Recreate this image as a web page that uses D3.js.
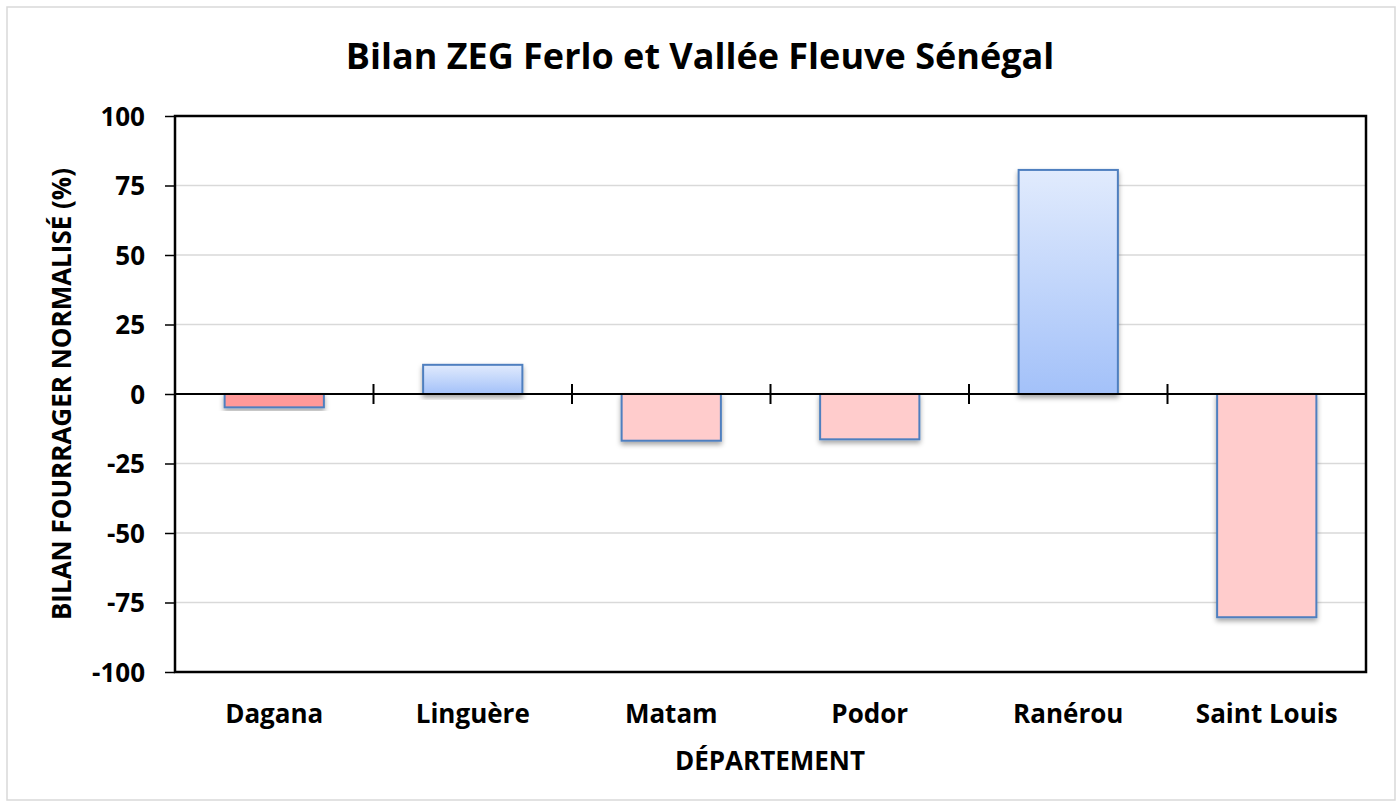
<!DOCTYPE html>
<html lang="fr">
<head>
<meta charset="UTF-8">
<title>Bilan ZEG Ferlo et Vallée Fleuve Sénégal</title>
<style>
  body { margin: 0; background: #fff; }
  svg text { font-family: "Open Sans", "DejaVu Sans", sans-serif; font-weight: bold; fill: #000; }
</style>
</head>
<body>
<script src="https://cdn.jsdelivr.net/npm/d3@7"></script>
<script>
// données
var departements = ["Dagana", "Linguère", "Matam", "Podor", "Ranérou", "Saint Louis"];
var bilan = [-4.8, 10.5, -16.8, -16.3, 80.6, -80.3];
var yTicks = [-100, -75, -50, -25, 0, 25, 50, 75, 100];

var W = 1399, H = 807;
var margin = {top: 116, right: 33, bottom: 135, left: 175};

var svg = d3.select("body").append("svg")
    .attr("width", W)
    .attr("height", H);

// cadre extérieur
svg.append("rect")
    .attr("x", 7).attr("y", 7)
    .attr("width", 1388).attr("height", 793)
    .attr("fill", "#fff")
    .attr("stroke", "#d9d9d9")
    .attr("stroke-width", 1.5);

var defs = svg.append("defs");
var grad = defs.append("linearGradient")
    .attr("id", "bleu")
    .attr("x1", 0).attr("y1", 0).attr("x2", 0).attr("y2", 1);
grad.append("stop").attr("offset", "0%").attr("stop-color", "#e1ebfd");
grad.append("stop").attr("offset", "100%").attr("stop-color", "#a3c1f9");

var shadow = defs.append("filter")
    .attr("id", "ombre")
    .attr("x", "-10%").attr("y", "-10%")
    .attr("width", "120%").attr("height", "130%");
shadow.append("feDropShadow")
    .attr("dx", 0).attr("dy", 3)
    .attr("stdDeviation", 2.5)
    .attr("flood-color", "#000")
    .attr("flood-opacity", 0.35);

var x = d3.scaleBand()
    .domain(departements)
    .range([margin.left, W - margin.right])
    .paddingInner(0.5)
    .paddingOuter(0.25);

var y = d3.scaleLinear()
    .domain([-100, 100])
    .range([H - margin.bottom, margin.top]);

// quadrillage
svg.append("g")
    .selectAll("line")
    .data(yTicks)
    .enter().append("line")
    .attr("x1", margin.left).attr("x2", W - margin.right)
    .attr("y1", function(d) { return y(d); })
    .attr("y2", function(d) { return y(d); })
    .attr("stroke", "#d9d9d9")
    .attr("stroke-width", 1.5);

// barres
svg.append("g")
    .selectAll("rect")
    .data(departements)
    .enter().append("rect")
    .attr("x", function(d) { return x(d); })
    .attr("y", function(d, i) { return y(Math.max(0, bilan[i])); })
    .attr("width", x.bandwidth())
    .attr("height", function(d, i) { return Math.abs(y(bilan[i]) - y(0)); })
    .attr("fill", function(d, i) {
        if (bilan[i] >= 0) return "url(#bleu)";
        return i == 0 ? "#ff9999" : "#ffcccc";
    })
    .attr("stroke", "#4f7fbf")
    .attr("stroke-width", 2)
    .attr("filter", "url(#ombre)");

// axe Y
var yAxis = d3.axisLeft(y)
    .tickValues(yTicks)
    .tickFormat(function(d) { return String(d); })
    .tickSize(10)
    .tickPadding(20);

var gy = svg.append("g")
    .attr("transform", "translate(" + margin.left + ",0)")
    .call(yAxis);
gy.select(".domain").remove();
gy.selectAll(".tick line").attr("stroke", "#000").attr("stroke-width", 1.5);
gy.selectAll(".tick text")
    .style("font-size", "26px")
    .attr("dy", "0.36em");

// cadre du graphique
svg.append("rect")
    .attr("x", margin.left).attr("y", margin.top)
    .attr("width", W - margin.right - margin.left)
    .attr("height", H - margin.bottom - margin.top)
    .attr("fill", "none")
    .attr("stroke", "#000")
    .attr("stroke-width", 2.5);

// ligne zéro + graduations entre catégories
svg.append("line")
    .attr("x1", margin.left).attr("x2", W - margin.right)
    .attr("y1", y(0)).attr("y2", y(0))
    .attr("stroke", "#000")
    .attr("stroke-width", 2);

var step = x.step();
svg.append("g")
    .selectAll("line")
    .data(departements.slice(1))
    .enter().append("line")
    .attr("x1", function(d) { return x(d) - step * 0.25; })
    .attr("x2", function(d) { return x(d) - step * 0.25; })
    .attr("y1", y(0) - 10).attr("y2", y(0) + 10)
    .attr("stroke", "#000")
    .attr("stroke-width", 2);

// étiquettes X
svg.append("g")
    .selectAll("text")
    .data(departements)
    .enter().append("text")
    .attr("x", function(d) { return x(d) + x.bandwidth() / 2; })
    .attr("y", 723)
    .attr("text-anchor", "middle")
    .style("font-size", "26px")
    .text(function(d) { return d; });

// titres
svg.append("text")
    .attr("x", 700).attr("y", 69)
    .attr("text-anchor", "middle")
    .style("font-size", "36px")
    .text("Bilan ZEG Ferlo et Vallée Fleuve Sénégal");

svg.append("text")
    .attr("x", 770).attr("y", 770)
    .attr("text-anchor", "middle")
    .style("font-size", "26px")
    .text("DÉPARTEMENT");

svg.append("text")
    .attr("transform", "translate(71," + y(0) + ") rotate(-90)")
    .attr("text-anchor", "middle")
    .style("font-size", "26px")
    .text("BILAN FOURRAGER NORMALISÉ (%)");
</script>
</body>
</html>
